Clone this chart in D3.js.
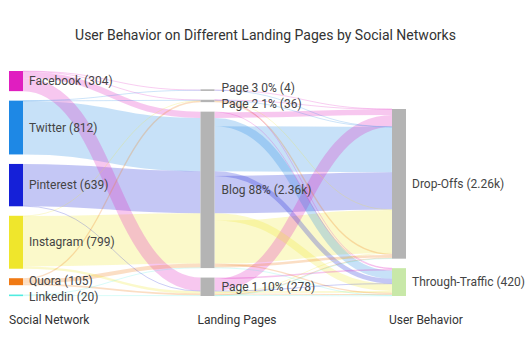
<!DOCTYPE html>
<html>
<head>
<meta charset="utf-8">
<script src="https://cdn.jsdelivr.net/npm/d3@7"></script>
<style>
  body { margin: 0; background: #fff; }
  text { font-family: Roboto, "Noto Sans", sans-serif; }
</style>
</head>
<body>
<svg width="531" height="354"></svg>
<script>
// data
var socialNetworks = ["Facebook", "Twitter", "Pinterest", "Instagram", "Quora", "Linkedin"];
var landingPages = ["Page 3", "Page 2", "Blog", "Page 1"];
var behaviors = ["Drop-Offs", "Through-Traffic"];
var columnTitles = ["Social Network", "Landing Pages", "User Behavior"];

// network, landing page, behavior, visitors
var flows = [
  ["Facebook", "Page 3", "Drop-Offs", 3],
  ["Facebook", "Page 2", "Drop-Offs", 5],
  ["Facebook", "Page 2", "Through-Traffic", 2],
  ["Facebook", "Blog", "Drop-Offs", 83],
  ["Facebook", "Blog", "Through-Traffic", 11],
  ["Facebook", "Page 1", "Drop-Offs", 177],
  ["Facebook", "Page 1", "Through-Traffic", 23],
  ["Twitter", "Page 3", "Drop-Offs", 1],
  ["Twitter", "Page 2", "Drop-Offs", 4],
  ["Twitter", "Blog", "Drop-Offs", 682],
  ["Twitter", "Blog", "Through-Traffic", 125],
  ["Pinterest", "Blog", "Drop-Offs", 563],
  ["Pinterest", "Blog", "Through-Traffic", 70],
  ["Pinterest", "Page 1", "Through-Traffic", 6],
  ["Instagram", "Page 2", "Drop-Offs", 5],
  ["Instagram", "Blog", "Drop-Offs", 650],
  ["Instagram", "Blog", "Through-Traffic", 109],
  ["Instagram", "Page 1", "Drop-Offs", 10],
  ["Instagram", "Page 1", "Through-Traffic", 25],
  ["Quora", "Page 2", "Drop-Offs", 20],
  ["Quora", "Blog", "Drop-Offs", 40],
  ["Quora", "Blog", "Through-Traffic", 20],
  ["Quora", "Page 1", "Drop-Offs", 10],
  ["Quora", "Page 1", "Through-Traffic", 15],
  ["Linkedin", "Blog", "Through-Traffic", 8],
  ["Linkedin", "Page 1", "Drop-Offs", 6],
  ["Linkedin", "Page 1", "Through-Traffic", 6]
];

var svg = d3.select("svg"),
    width = +svg.attr("width"),
    height = +svg.attr("height");

var networkColor = d3.scaleOrdinal()
    .domain(socialNetworks)
    .range(["#e01ec0", "#1e88e5", "#1520d8", "#efe62c", "#f07a14", "#50ece0"]);
var behaviorColor = d3.scaleOrdinal().domain(behaviors).range(["#b4b4b4", "#c8e8a8"]);

var nodeWidth = 14, pad = 9.5, plotTop = 71, plotBottom = 296;
var colX = d3.scalePoint().domain([0, 1, 2]).range([9, 392]);

// nodes
var nodes = [];
[socialNetworks, landingPages, behaviors].forEach(function(names, c) {
  names.forEach(function(name, i) {
    nodes.push({ name: name, col: c, idx: i, value: 0, ins: [], outs: [] });
  });
});
var byName = new Map(nodes.map(function(n) { return [n.name, n]; }));

// links: stage one per network, stage two keeps the network colour
var links = [];
function addLink(s, t, group, v) {
  var l = links.find(function(d) { return d.source === s && d.target === t && d.group === group; });
  if (!l) {
    l = { source: s, target: t, group: group, value: 0 };
    links.push(l);
    s.outs.push(l);
    t.ins.push(l);
  }
  l.value += v;
}
flows.forEach(function(f) {
  addLink(byName.get(f[0]), byName.get(f[1]), f[0], f[3]);
  addLink(byName.get(f[1]), byName.get(f[2]), f[0], f[3]);
});
nodes.forEach(function(n) {
  n.value = Math.max(d3.sum(n.ins, function(d) { return d.value; }), d3.sum(n.outs, function(d) { return d.value; }));
});

var total = d3.sum(nodes.filter(function(n) { return n.col === 0; }), function(n) { return n.value; });
var ky = (plotBottom - plotTop - pad * (socialNetworks.length - 1)) / total;
var y = d3.scaleLinear().domain([0, total]).range([0, total * ky]);

// columns stacked from the bottom
[0, 1, 2].forEach(function(c) {
  var col = nodes.filter(function(n) { return n.col === c; });
  var yy = plotBottom;
  col.slice().reverse().forEach(function(n) {
    n.y1 = yy;
    n.y0 = yy - y(n.value);
    yy = n.y0 - pad;
    n.x0 = colX(c);
    n.x1 = n.x0 + nodeWidth;
  });
});

var gIdx = function(g) { return socialNetworks.indexOf(g); };
nodes.forEach(function(n) {
  if (n.col === 0) n.outs.sort(function(a, b) { return a.target.idx - b.target.idx; });
  else n.outs.sort(function(a, b) { return gIdx(a.group) - gIdx(b.group) || b.target.idx - a.target.idx; });
  if (n.col === 1) n.ins.sort(function(a, b) { return a.source.idx - b.source.idx; });
  else n.ins.sort(function(a, b) { return gIdx(a.group) - gIdx(b.group) || a.source.idx - b.source.idx; });
  var off = n.y0;
  n.outs.forEach(function(l) { l.width = y(l.value); l.y0 = off + l.width / 2; off += l.width; });
  off = n.y0;
  n.ins.forEach(function(l) { l.y1 = off + y(l.value) / 2; off += y(l.value); });
});

var linkPath = d3.linkHorizontal()
    .source(function(d) { return [d.source.x1, d.y0]; })
    .target(function(d) { return [d.target.x0, d.y1]; });

svg.append("g")
    .attr("fill", "none")
  .selectAll("path")
  .data(links.slice().sort(function(a, b) { return b.value - a.value; }))
  .enter().append("path")
    .attr("d", linkPath)
    .attr("stroke", function(d) { return networkColor(d.group); })
    .attr("stroke-opacity", 0.25)
    .attr("stroke-width", function(d) { return Math.max(d.width, 0.9); });

svg.append("g")
  .selectAll("rect")
  .data(nodes)
  .enter().append("rect")
    .attr("x", function(d) { return d.x0; })
    .attr("y", function(d) { return d.y1 - d.y0 < 1.6 ? (d.y0 + d.y1) / 2 - 0.8 : d.y0; })
    .attr("width", nodeWidth)
    .attr("height", function(d) { return Math.max(d.y1 - d.y0, 1.6); })
    .attr("fill", function(d) {
      if (d.col === 0) return networkColor(d.name);
      if (d.col === 1) return "#b4b4b4";
      return behaviorColor(d.name);
    });

// labels, pushed apart when they crowd
var fmt = d3.format(".3~s"), pct = d3.format(".0%");
nodes.forEach(function(n) {
  n.label = n.col === 1 ? n.name + " " + pct(n.value / total) + " (" + fmt(n.value) + ")"
                        : n.name + " (" + fmt(n.value) + ")";
  n.ly = (n.y0 + n.y1) / 2;
});
[0, 1, 2].forEach(function(c) {
  var col = nodes.filter(function(n) { return n.col === c; });
  for (var i = 1; i < col.length; i++) {
    var gap = col[i].ly - col[i - 1].ly;
    if (gap < 16) {
      col[i - 1].ly -= (16 - gap) / 2;
      col[i].ly += (16 - gap) / 2;
    }
  }
});

svg.append("g")
  .selectAll("text")
  .data(nodes)
  .enter().append("text")
    .attr("x", function(d) { return d.x1 + (d.col === 1 ? 7 : 6); })
    .attr("y", function(d) { return d.ly; })
    .attr("dy", "0.35em")
    .attr("font-size", 12)
    .attr("fill", "#444")
    .text(function(d) { return d.label; });

svg.append("g")
  .selectAll("text")
  .data(columnTitles)
  .enter().append("text")
    .attr("x", function(d, i) { return colX(i) - (i ? 3 : 0); })
    .attr("y", 320)
    .attr("dy", "0.35em")
    .attr("font-size", 12)
    .attr("fill", "#333")
    .text(function(d) { return d; });

svg.append("text")
    .attr("x", width / 2)
    .attr("y", 35)
    .attr("dy", "0.35em")
    .attr("text-anchor", "middle")
    .attr("font-size", 14)
    .attr("fill", "#333")
    .text("User Behavior on Different Landing Pages by Social Networks");
</script>
</body>
</html>
